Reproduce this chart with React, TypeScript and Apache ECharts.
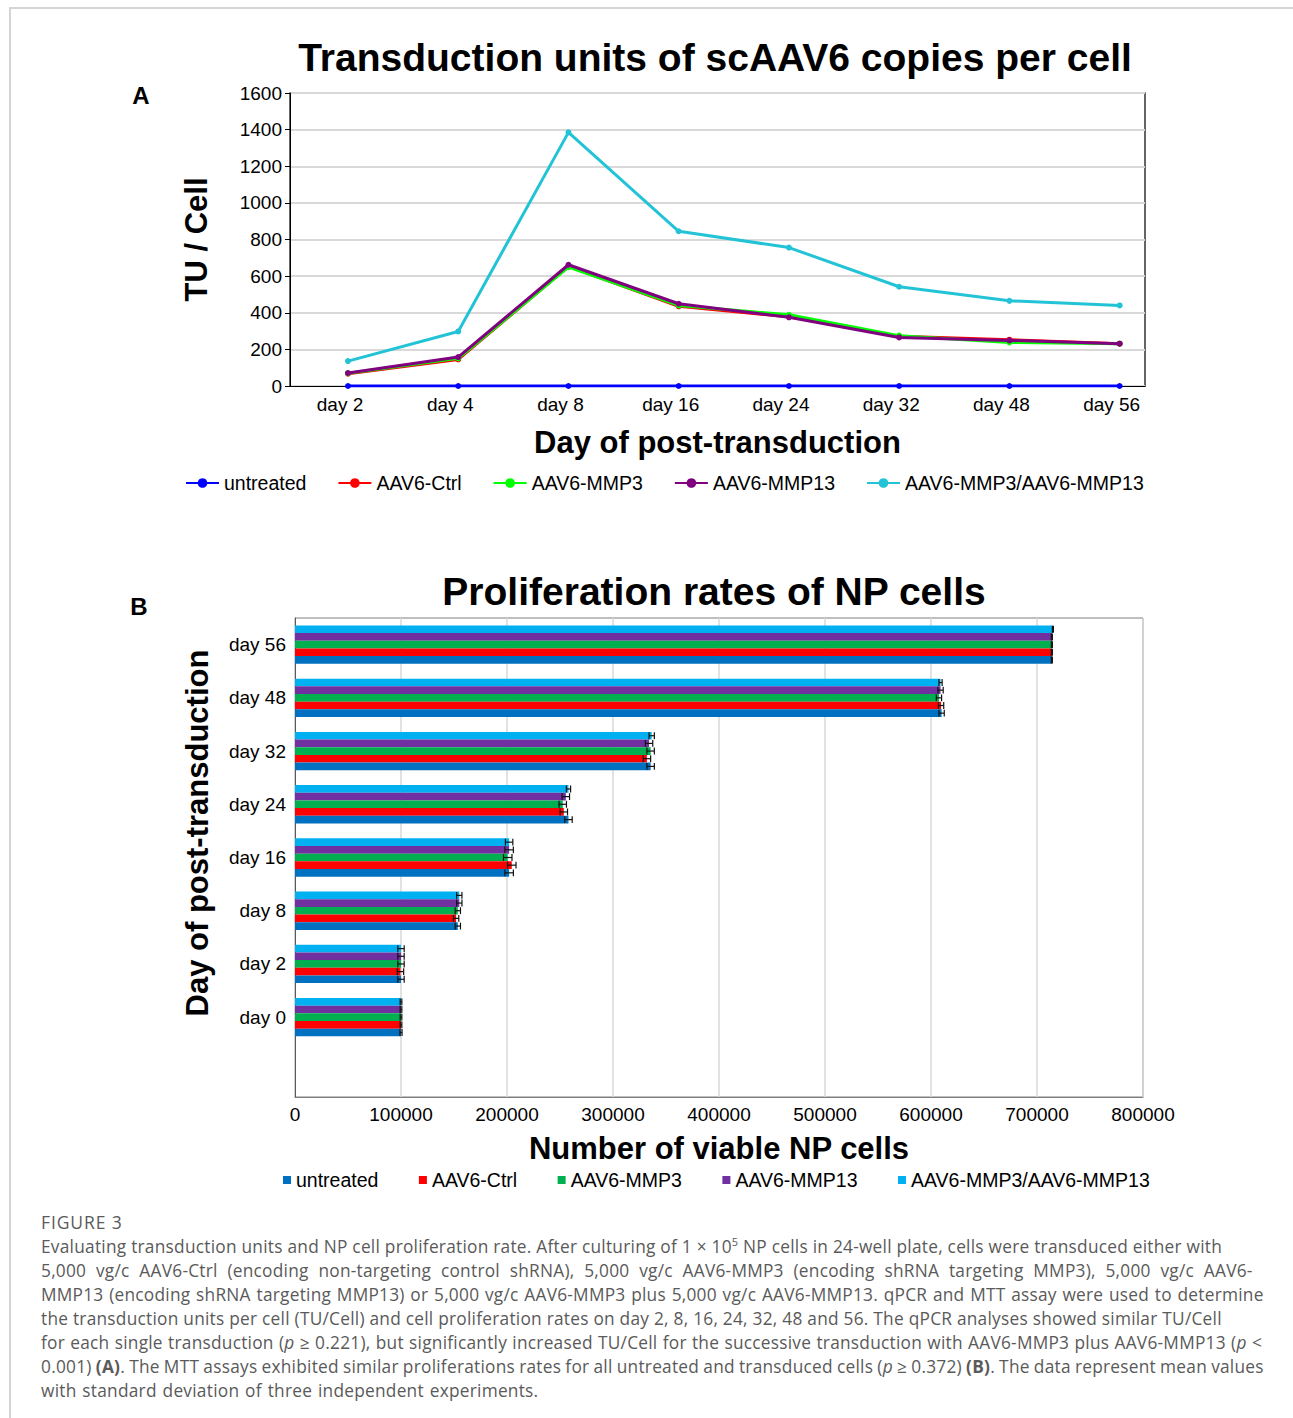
import React, { useEffect, useRef } from "react";
import * as echarts from "echarts";

const FONT = "'Liberation Sans', Arial, Helvetica, sans-serif";

// ---- Panel A data (TU / Cell) ----
const tuDays = ["day 2", "day 4", "day 8", "day 16", "day 24", "day 32", "day 48", "day 56"];
const tuUntreated = [0, 0, 0, 0, 0, 0, 0, 0];
const tuCtrl = [67, 145, 653, 435, 378, 271, 253, 231];
const tuMMP3 = [70, 151, 649, 440, 389, 275, 238, 231];
const tuMMP13 = [71, 158, 662, 449, 375, 265, 249, 231];
const tuCombo = [136, 298, 1385, 845, 756, 542, 465, 440];
const tuYTicks = { min: 0, max: 1600, interval: 200 };

// ---- Panel B data (viable NP cells) ----
const prolifDays = ["day 0", "day 2", "day 8", "day 16", "day 24", "day 32", "day 48", "day 56"];
const cellsUntreated = [100000, 100000, 153600, 202000, 258000, 335500, 610000, 714000];
const cellsCtrl = [100000, 99500, 152000, 204500, 253600, 332000, 609500, 714000];
const cellsMMP3 = [100000, 100000, 153600, 200700, 252600, 335500, 607500, 714000];
const cellsMMP13 = [100000, 100000, 155000, 202000, 255500, 334000, 609000, 714000];
const cellsCombo = [100000, 100000, 155000, 202000, 258000, 336500, 609000, 715000];
const errUntreated = [1000, 3000, 2500, 4000, 3500, 3500, 2500, 500];
const errCtrl = [800, 3000, 2500, 4000, 3500, 3500, 2500, 500];
const errMMP3 = [800, 3000, 2500, 4000, 3500, 3500, 2500, 500];
const errMMP13 = [800, 3000, 2500, 4000, 3500, 3500, 2500, 500];
const errCombo = [800, 3000, 2500, 3500, 2000, 2500, 1500, 500];
const xTicksB = { min: 0, max: 800000, interval: 100000 };

const seriesNames = ["untreated", "AAV6-Ctrl", "AAV6-MMP3", "AAV6-MMP13", "AAV6-MMP3/AAV6-MMP13"];
const lineColors = ["#0000ff", "#ff0000", "#00ff00", "#800080", "#22c3d6"];
const barColors = ["#0070c0", "#ff0000", "#00b050", "#7030a0", "#00b0f0"];

const plain = (v: number) => String(v);

function topOption(): any {
  const arrs = [tuUntreated, tuCtrl, tuMMP3, tuMMP13, tuCombo];
  return {
    animation: false,
    textStyle: { fontFamily: FONT },
    graphic: [
      {
        type: "text", x: 715, y: 57,
        style: { text: "Transduction units of scAAV6 copies per cell", font: `bold 39px ${FONT}`, align: "center", verticalAlign: "middle", fill: "#000" },
      },
      {
        type: "text", x: 141, y: 95,
        style: { text: "A", font: `bold 24px ${FONT}`, align: "center", verticalAlign: "middle", fill: "#000" },
      },
    ],
    grid: { left: 290, top: 93, width: 855, height: 293, show: true, borderColor: "#333", borderWidth: 1.5 },
    xAxis: {
      type: "value",
      min: -0.526,
      max: 7.23,
      axisLine: { show: true, onZero: false, lineStyle: { color: "#000" } },
      axisTick: { show: false },
      splitLine: { show: false },
      axisLabel: {
        customValues: tuDays.map((_, i) => i),
        formatter: (v: number) => tuDays[Math.round(v)] ?? "",
        fontSize: 19, color: "#000", margin: 9, padding: [0, 16, 0, 0], fontFamily: FONT,
      },
      name: "Day of post-transduction",
      nameLocation: "middle",
      nameGap: 41,
      nameTextStyle: { fontSize: 31, fontWeight: "bold", color: "#000", fontFamily: FONT },
    },
    yAxis: {
      type: "value",
      min: tuYTicks.min,
      max: tuYTicks.max,
      interval: tuYTicks.interval,
      axisLine: { show: true, onZero: false, lineStyle: { color: "#000" } },
      axisTick: { show: true, length: 5, lineStyle: { color: "#000" } },
      splitLine: { show: true, lineStyle: { color: "#d9d9d9", width: 2 } },
      axisLabel: { fontSize: 19, color: "#000", margin: 8, fontFamily: FONT, formatter: plain },
      name: "TU / Cell",
      nameLocation: "middle",
      nameGap: 78,
      nameTextStyle: { fontSize: 31, fontWeight: "bold", color: "#000", fontFamily: FONT },
    },
    legend: {
      left: 185, top: 473, padding: 0, itemWidth: 33, itemHeight: 12, itemGap: 31,
      textStyle: { fontSize: 19.5, color: "#000", fontFamily: FONT },
      data: seriesNames,
    },
    series: seriesNames.map((n, i) => ({
      type: "line",
      name: n,
      data: arrs[i].map((v, j) => [j, v]),
      color: lineColors[i],
      lineStyle: { width: 3, color: lineColors[i] },
      itemStyle: { color: lineColors[i] },
      symbol: "circle",
      symbolSize: 6,
      z: 2 + i,
    })),
  };
}

function bottomOption(): any {
  const vals = [cellsUntreated, cellsCtrl, cellsMMP3, cellsMMP13, cellsCombo];
  const errs = [errUntreated, errCtrl, errMMP3, errMMP13, errCombo];
  const cats = ["", ...prolifDays];
  const gapFrac = 0.28;
  // ECharts places the first bar series on top within a horizontal group,
  // so series are added in reverse order (untreated ends at the bottom).
  const order = [4, 3, 2, 1, 0];
  const barSeries = order.map((idx) => ({
    type: "bar",
    name: seriesNames[idx],
    data: [null, ...vals[idx]],
    itemStyle: { color: barColors[idx] },
    barGap: "0%",
    barCategoryGap: `${gapFrac * 100}%`,
  }));
  const errData: number[][] = [];
  order.forEach((idx, slot) => {
    vals[idx].forEach((v, j) => {
      errData.push([v, j + 1, errs[idx][j], slot]);
    });
  });
  const errSeries = {
    type: "custom",
    name: "sd",
    silent: true,
    z: 10,
    data: errData,
    encode: { x: 0, y: 1 },
    renderItem: (_params: any, api: any) => {
      const v = api.value(0);
      const c = api.value(1);
      const e = api.value(2);
      const slot = api.value(3);
      const p = api.coord([v, c]);
      const band = api.size([0, 1])[1];
      const group = band * (1 - gapFrac);
      const bw = group / 5;
      const y = p[1] - group / 2 + bw * slot + bw / 2;
      const x1 = api.coord([v - e, c])[0];
      const x2 = api.coord([v + e, c])[0];
      const h = bw * 0.45;
      const st = { stroke: "#111", lineWidth: 1.2 };
      return {
        type: "group",
        children: [
          { type: "line", shape: { x1, y1: y, x2, y2: y }, style: st },
          { type: "line", shape: { x1, y1: y - h, x2: x1, y2: y + h }, style: st },
          { type: "line", shape: { x1: x2, y1: y - h, x2, y2: y + h }, style: st },
        ],
      };
    },
  };
  return {
    animation: false,
    textStyle: { fontFamily: FONT },
    graphic: [
      {
        type: "text", x: 714, y: 71,
        style: { text: "Proliferation rates of NP cells", font: `bold 39px ${FONT}`, align: "center", verticalAlign: "middle", fill: "#000" },
      },
      {
        type: "text", x: 139, y: 86,
        style: { text: "B", font: `bold 24px ${FONT}`, align: "center", verticalAlign: "middle", fill: "#000" },
      },
      {
        type: "text", x: 197, y: 313, rotation: Math.PI / 2,
        style: { text: "Day of post-transduction", font: `bold 31px ${FONT}`, align: "center", verticalAlign: "middle", fill: "#000" },
      },
    ],
    grid: { left: 295, top: 98, width: 848, height: 479, show: true, borderColor: "#7f7f7f", borderWidth: 1 },
    xAxis: {
      type: "value",
      min: xTicksB.min,
      max: xTicksB.max,
      interval: xTicksB.interval,
      axisLine: { show: true, lineStyle: { color: "#7f7f7f" } },
      axisTick: { show: false },
      splitLine: { show: true, lineStyle: { color: "#d9d9d9", width: 1.5 } },
      axisLabel: { fontSize: 19, color: "#000", margin: 8, fontFamily: FONT, formatter: plain },
      name: "Number of viable NP cells",
      nameLocation: "middle",
      nameGap: 36,
      nameTextStyle: { fontSize: 31, fontWeight: "bold", color: "#000", fontFamily: FONT },
    },
    yAxis: {
      type: "category",
      data: cats,
      axisTick: { show: false },
      axisLine: { show: true, lineStyle: { color: "#595959" } },
      axisLabel: { fontSize: 19, color: "#000", margin: 9, fontFamily: FONT },
    },
    legend: {
      left: 283, top: 650, padding: 0, itemWidth: 8, itemHeight: 8, itemGap: 40.5, icon: "rect",
      textStyle: { fontSize: 19.5, color: "#000", fontFamily: FONT },
      data: seriesNames,
    },
    series: [...barSeries, errSeries],
  };
}

function Chart({ option, style }: { option: any; style: React.CSSProperties }) {
  const ref = useRef<HTMLDivElement>(null);
  useEffect(() => {
    if (!ref.current) return;
    const chart = echarts.init(ref.current, undefined, { renderer: "svg" });
    chart.setOption(option);
    return () => chart.dispose();
  }, [option]);
  return <div ref={ref} style={style} />;
}

const topOpt = topOption();
const bottomOpt = bottomOption();

const capFont = "'Open Sans', 'Noto Sans', sans-serif";
const ln = (ws: number): React.CSSProperties => ({ whiteSpace: "nowrap", height: 24, lineHeight: "24px", wordSpacing: ws });

export default function App() {
  return (
    <div style={{ position: "absolute", left: 0, top: 0, width: 1293, height: 1418, background: "#fff", overflow: "hidden" }}>
      <div style={{ position: "absolute", left: 9, top: 7, width: 1300, height: 1430, borderTop: "2px solid #d4d4d4", borderLeft: "2px solid #d4d4d4" }} />
      <Chart option={topOpt} style={{ position: "absolute", left: 0, top: 0, width: 1293, height: 520 }} />
      <Chart option={bottomOpt} style={{ position: "absolute", left: 0, top: 520, width: 1293, height: 700 }} />
      <div style={{ position: "absolute", left: 41, top: 1210, fontFamily: capFont, fontSize: 17.5, color: "#5a5a5a", lineHeight: "24px", letterSpacing: 0.9 }}>
        FIGURE 3
      </div>
      <div style={{ position: "absolute", left: 41, top: 1235, fontFamily: capFont, fontSize: 17.3, letterSpacing: 0.25, color: "#5a5a5a" }}>
        <div style={ln(0)}>Evaluating transduction units and NP cell proliferation rate. After culturing of 1 × 10<sup style={{ fontSize: 11, lineHeight: 0 }}>5</sup> NP cells in 24-well plate, cells were transduced either with</div>
        <div style={ln(5)}>5,000 vg/c AAV6-Ctrl (encoding non-targeting control shRNA), 5,000 vg/c AAV6-MMP3 (encoding shRNA targeting MMP3), 5,000 vg/c AAV6-</div>
        <div style={ln(0.95)}>MMP13 (encoding shRNA targeting MMP13) or 5,000 vg/c AAV6-MMP3 plus 5,000 vg/c AAV6-MMP13. qPCR and MTT assay were used to determine</div>
        <div style={ln(0)}>the transduction units per cell (TU/Cell) and cell proliferation rates on day 2, 8, 16, 24, 32, 48 and 56. The qPCR analyses showed similar TU/Cell</div>
        <div style={ln(0.5)}>for each single transduction (<i>p</i> ≥ 0.221), but significantly increased TU/Cell for the successive transduction with AAV6-MMP3 plus AAV6-MMP13 (<i>p</i> &lt;</div>
        <div style={ln(-0.6)}>0.001) <b>(A)</b>. The MTT assays exhibited similar proliferations rates for all untreated and transduced cells (<i>p</i> ≥ 0.372) <b>(B)</b>. The data represent mean values</div>
        <div style={ln(1.1)}>with standard deviation of three independent experiments.</div>
      </div>
    </div>
  );
}
